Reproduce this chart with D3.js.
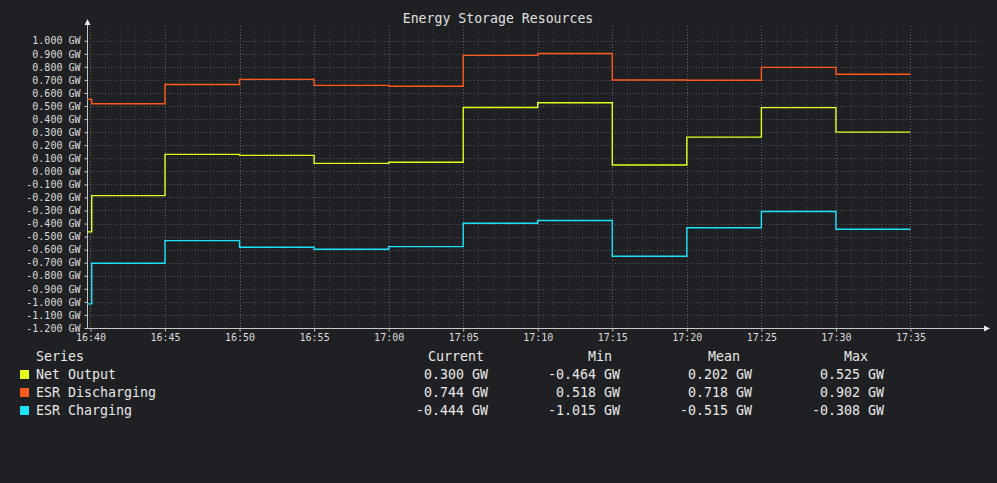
<!DOCTYPE html>
<html>
<head>
<meta charset="utf-8">
<script src="https://cdn.jsdelivr.net/npm/d3@7"></script>
<style>
  html, body { margin: 0; padding: 0; background: #1f2023; }
  svg { display: block; font-family: "DejaVu Sans Mono", monospace; }
</style>
</head>
<body>
<div id="chart"></div>
<script>
// Chart size.
var width = 997;
var height = 483;

// Step change times (start of each step) and when the last step ends.
var stepTimes = ["16:39:46", "16:40:05", "16:45:00", "16:50:00", "16:55:00", "17:00:00",
                 "17:05:00", "17:10:00", "17:15:00", "17:20:00", "17:25:00", "17:30:00"];
var endTime = "17:35:00";

// Series values (GW), one per step.
var netOutput = [-0.464, -0.186, 0.130, 0.122, 0.061, 0.069, 0.489, 0.525, 0.048, 0.262, 0.488, 0.300];
var esrDischarging = [0.551, 0.518, 0.665, 0.704, 0.658, 0.651, 0.888, 0.902, 0.699, 0.697, 0.796, 0.744];
var esrCharging = [-1.015, -0.704, -0.531, -0.582, -0.597, -0.577, -0.398, -0.377, -0.651, -0.432, -0.308, -0.444];

var seriesNames = ["Net Output", "ESR Discharging", "ESR Charging"];
var seriesColors = ["#e4ff1c", "#ff5a1a", "#1ae2ff"];

// Legend table columns.
var statHeaders = ["Current", "Min", "Mean", "Max"];
var statCurrent = ["0.300 GW", "0.744 GW", "-0.444 GW"];
var statMin = ["-0.464 GW", "0.518 GW", "-1.015 GW"];
var statMean = ["0.202 GW", "0.718 GW", "-0.515 GW"];
var statMax = ["0.525 GW", "0.902 GW", "-0.308 GW"];

// Axis ticks.
var xTickLabels = ["16:40", "16:45", "16:50", "16:55", "17:00", "17:05",
                   "17:10", "17:15", "17:20", "17:25", "17:30", "17:35"];
var yTickValues = [-1.2, -1.1, -1.0, -0.9, -0.8, -0.7, -0.6, -0.5, -0.4, -0.3, -0.2, -0.1,
                   0, 0.1, 0.2, 0.3, 0.4, 0.5, 0.6, 0.7, 0.8, 0.9, 1.0];

var parseTime = d3.timeParse("%Y-%m-%d %H:%M:%S");
function t(s) {
    if (s.length === 5) s += ":00";
    return parseTime("2024-01-01 " + s);
}

var svg = d3.select("#chart").append("svg")
    .attr("width", width)
    .attr("height", height);

// Plot area bounds.
var plotLeft = 87, plotRight = 985, plotTop = 26, plotBottom = 328;

var x = d3.scaleTime()
    .domain([t("16:39:46"), t("17:40:00")])
    .range([plotLeft, plotRight]);

var y = d3.scaleLinear()
    .domain([-1.2, 1.113])
    .range([plotBottom, plotTop]);

// Title.
svg.append("text")
    .attr("x", 498)
    .attr("y", 23)
    .attr("text-anchor", "middle")
    .attr("fill", "#e0e0e0")
    .style("font-size", "13.2px")
    .text("Energy Storage Resources");

// Grid: minor minutes, major 5 minutes, horizontal at each y tick.
var grid = svg.append("g");
var minutes = d3.timeMinute.range(t("16:40"), t("17:40"));
grid.selectAll("line.minor")
    .data(minutes.filter(function(d) { return d.getMinutes() % 5 !== 0; }))
    .enter().append("line")
    .attr("x1", function(d) { return Math.round(x(d)) + 0.5; })
    .attr("x2", function(d) { return Math.round(x(d)) + 0.5; })
    .attr("y1", plotTop).attr("y2", plotBottom)
    .attr("stroke", "#3a3b3e")
    .attr("stroke-dasharray", "1,2");

var xTicks = xTickLabels.map(t);
grid.selectAll("line.major")
    .data(xTicks)
    .enter().append("line")
    .attr("x1", function(d) { return Math.round(x(d)) + 0.5; })
    .attr("x2", function(d) { return Math.round(x(d)) + 0.5; })
    .attr("y1", plotTop).attr("y2", plotBottom)
    .attr("stroke", "#626366")
    .attr("stroke-dasharray", "1,2");

grid.selectAll("line.h")
    .data(yTickValues.filter(function(d) { return d > -1.2; }))
    .enter().append("line")
    .attr("x1", plotLeft).attr("x2", plotRight - 2)
    .attr("y1", function(d) { return Math.round(y(d)) + 0.5; })
    .attr("y2", function(d) { return Math.round(y(d)) + 0.5; })
    .attr("stroke", "#55565a")
    .attr("stroke-dasharray", "1,2");

// Axes.
var fmt = function(v) { return (Math.abs(v) < 1e-9 ? 0 : v).toFixed(3) + " GW"; };

var yAxis = svg.append("g")
    .attr("transform", "translate(" + (plotLeft + 0.5) + ",0)")
    .call(d3.axisLeft(y).tickValues(yTickValues).tickFormat(fmt).tickSize(3).tickPadding(4));

var xAxis = svg.append("g")
    .attr("transform", "translate(0," + (plotBottom + 0.5) + ")")
    .call(d3.axisBottom(x).tickValues(xTicks).tickFormat(d3.timeFormat("%H:%M")).tickSize(3).tickPadding(2));

[xAxis, yAxis].forEach(function(a) {
    a.select(".domain").remove();
    a.selectAll("line").attr("stroke", "#c8c8c8");
    a.selectAll("text")
        .attr("fill", "#dcdcdc")
        .style("font-family", "DejaVu Sans Mono, monospace")
        .style("font-size", "10px");
});

// Axis lines with arrow heads.
svg.append("line")
    .attr("x1", plotLeft + 0.5).attr("x2", plotLeft + 0.5)
    .attr("y1", 22).attr("y2", plotBottom + 1)
    .attr("stroke", "#c8c8c8");
svg.append("line")
    .attr("x1", plotLeft).attr("x2", 986)
    .attr("y1", plotBottom + 0.5).attr("y2", plotBottom + 0.5)
    .attr("stroke", "#c8c8c8");
svg.append("path")
    .attr("d", "M" + (plotLeft + 0.5) + ",19 L" + (plotLeft + 3.5) + ",25 L" + (plotLeft - 2.5) + ",25 Z")
    .attr("fill", "#e8e8e8");
svg.append("path")
    .attr("d", "M990," + (plotBottom + 0.5) + " L984," + (plotBottom - 2.5) + " L984," + (plotBottom + 3.5) + " Z")
    .attr("fill", "#e8e8e8");

// Lines.
var line = d3.line()
    .x(function(d) { return x(d.t); })
    .y(function(d) { return y(d.v); })
    .curve(d3.curveStepAfter);

var allValues = [netOutput, esrDischarging, esrCharging];
allValues.forEach(function(vals, i) {
    var pts = stepTimes.map(function(s, j) { return { t: t(s), v: vals[j] }; });
    pts.push({ t: t(endTime), v: vals[vals.length - 1] });
    svg.append("path")
        .datum(pts)
        .attr("d", line)
        .attr("fill", "none")
        .attr("stroke", seriesColors[i])
        .attr("stroke-width", 1.4);
});

// Legend table.
var legend = svg.append("g")
    .style("font-size", "13.3px")
    .attr("fill", "#e8e8e8");

var colRight = [488, 620, 752, 884];
var headRight = [484, 612, 740, 868];
var rowY0 = 361, rowStep = 18;

legend.append("text")
    .attr("x", 36).attr("y", rowY0)
    .text("Series");

statHeaders.forEach(function(h, c) {
    legend.append("text")
        .attr("x", headRight[c]).attr("y", rowY0)
        .attr("text-anchor", "end")
        .text(h);
});

var stats = [statCurrent, statMin, statMean, statMax];
seriesNames.forEach(function(name, r) {
    var yy = rowY0 + rowStep * (r + 1);
    legend.append("rect")
        .attr("x", 20).attr("y", yy - 9)
        .attr("width", 9).attr("height", 9)
        .attr("fill", seriesColors[r]);
    legend.append("text")
        .attr("x", 36).attr("y", yy)
        .text(name);
    stats.forEach(function(col, c) {
        legend.append("text")
            .attr("x", colRight[c]).attr("y", yy)
            .attr("text-anchor", "end")
            .text(col[r]);
    });
});
</script>
</body>
</html>
